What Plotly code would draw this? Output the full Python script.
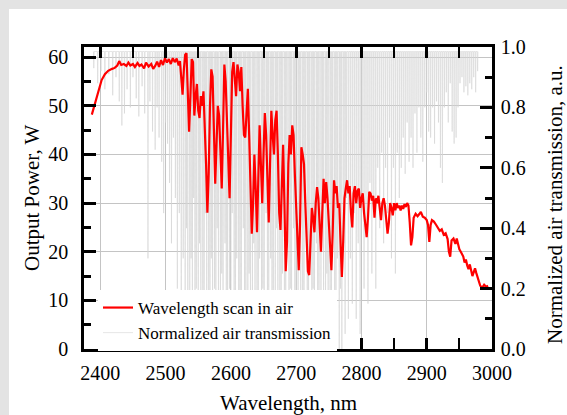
import plotly.graph_objects as go

# ---------------- data ----------------
scan_wl = [2387, 2392, 2397, 2402, 2407, 2412, 2418, 2422, 2426, 2429, 2432, 2436, 2440, 2443, 2446,
           2450, 2453, 2457, 2460, 2463, 2467, 2470, 2474, 2478, 2481, 2484, 2487, 2490, 2493, 2496,
           2499, 2502, 2505, 2508, 2511, 2514, 2517, 2520, 2522, 2524, 2526, 2528, 2530, 2532, 2534,
           2536, 2538, 2540, 2542, 2544, 2546, 2548, 2550, 2552, 2554, 2556, 2558, 2560, 2562, 2564,
           2566, 2568, 2570, 2572, 2574, 2576, 2578, 2580, 2582, 2584, 2586, 2588, 2590, 2592, 2594,
           2596, 2598, 2600, 2602, 2604, 2606, 2608, 2610, 2612, 2614, 2616, 2618, 2620, 2622, 2624,
           2626, 2628, 2630, 2632, 2634, 2636, 2638, 2640, 2642, 2644, 2646, 2648, 2650, 2652, 2654,
           2656, 2658, 2660, 2662, 2664, 2666, 2668, 2670, 2672, 2674, 2676, 2678, 2680, 2682, 2684,
           2686, 2688, 2690, 2692, 2694, 2696, 2698, 2700, 2702, 2704, 2706, 2708, 2710, 2712, 2714,
           2716, 2718, 2720, 2722, 2724, 2726, 2728, 2730, 2732, 2734, 2736, 2738, 2740, 2742, 2744,
           2746, 2748, 2750, 2752, 2754, 2756, 2758, 2760, 2762, 2764, 2766, 2768, 2770, 2772, 2774,
           2776, 2778, 2780, 2782, 2784, 2786, 2788, 2790, 2792, 2794, 2796, 2798, 2800, 2802, 2804,
           2806, 2808, 2810, 2812, 2814, 2816, 2818, 2820, 2822, 2824, 2826, 2828, 2830, 2832, 2834,
           2836, 2838, 2840, 2842, 2844, 2846, 2848, 2850, 2852, 2854, 2856, 2858, 2860, 2862, 2864,
           2866, 2868, 2870, 2872, 2874, 2876, 2878, 2880, 2883, 2886, 2889, 2891, 2894, 2897, 2900,
           2902, 2904, 2906, 2908, 2911, 2914, 2917, 2920, 2923, 2926, 2929, 2932, 2934, 2936, 2938,
           2941, 2944, 2946, 2948, 2950, 2953, 2956, 2958, 2960, 2962, 2964, 2966, 2968, 2970, 2972,
           2974, 2976, 2978, 2980, 2982, 2985, 2988, 2991, 2994]
scan_power = [48.2, 50.5, 53.0, 55.3, 56.5, 57.2, 57.6, 57.8, 58.3, 59.2, 58.4, 58.6, 58.2, 58.9, 58.3,
              58.6, 58.0, 58.8, 58.2, 58.5, 57.7, 58.9, 58.1, 58.6, 57.6, 58.2, 59.1, 58.0, 59.4, 58.4,
              59.8, 58.9, 59.6, 58.6, 59.8, 59.0, 59.7, 58.3, 59.2, 55.5, 52.3, 57.5, 60.5, 60.8, 52.0,
              44.7, 52.0, 59.6, 59.0, 48.0, 52.0, 54.5, 49.0, 47.5, 52.0, 50.0, 53.0, 46.0, 38.0, 28.0,
              36.0, 50.0, 57.5, 56.0, 44.0, 34.0, 42.0, 50.0, 48.0, 40.0, 33.0, 45.0, 58.5, 55.0, 48.0,
              40.0, 31.0, 44.0, 57.0, 59.0, 56.0, 52.0, 58.5, 57.0, 53.0, 58.0, 50.0, 44.0, 43.5, 50.0,
              53.5, 44.0, 32.0, 23.7, 30.0, 40.0, 33.0, 24.0, 35.0, 46.0, 38.0, 30.0, 40.0, 48.5, 44.0,
              33.0, 26.0, 38.0, 49.0, 44.0, 40.0, 47.0, 49.0, 40.0, 28.0, 24.5, 32.0, 42.0, 30.0, 16.0,
              22.0, 38.0, 44.0, 40.0, 46.0, 44.0, 36.0, 28.0, 24.0, 16.2, 26.0, 41.5, 40.0, 38.0, 30.0,
              22.0, 16.0, 15.2, 22.0, 29.0, 27.0, 24.0, 30.0, 33.3, 31.0, 26.0, 20.0, 28.0, 35.0, 30.0,
              34.3, 31.0, 26.0, 20.0, 16.2, 24.0, 34.7, 32.0, 33.5, 29.0, 30.0, 22.0, 14.8, 22.0, 31.0,
              33.0, 34.7, 32.0, 33.5, 28.0, 25.0, 32.0, 33.5, 30.0, 32.5, 33.0, 29.0, 31.0, 32.0, 28.0,
              25.0, 23.0, 27.0, 32.3, 32.0, 30.5, 31.5, 27.0, 31.0, 30.0, 31.5, 29.0, 26.5, 30.0, 31.0,
              29.5, 27.0, 23.7, 26.0, 30.0, 29.0, 27.5, 30.0, 28.5, 30.0, 29.0, 29.5, 28.5, 29.5, 28.8,
              29.8, 29.2, 30.0, 29.5, 26.0, 21.3, 23.0, 27.0, 27.8, 27.3, 27.8, 28.2, 27.2, 27.0, 26.5,
              25.5, 22.0, 25.5, 26.5, 26.2, 25.6, 25.0, 24.3, 24.6, 23.5, 23.8, 22.6, 20.0, 19.0, 22.3,
              22.7, 21.6, 22.7, 21.6, 20.5, 19.8, 19.0, 17.8, 18.4, 17.2, 16.4, 17.4, 16.0, 15.0, 15.8,
              16.6, 15.6, 14.6, 13.8, 13.0, 12.6, 13.2, 12.8, 13.0]

# absorption dips of the normalized air transmission (centre wavelength, minimum)
dip_wl = [2390, 2396, 2401, 2407, 2413, 2419, 2424, 2429, 2433, 2437, 2441, 2446, 2450, 2455, 2459,
          2464, 2468, 2473, 2476, 2480, 2484, 2487, 2490, 2494, 2497, 2500, 2503, 2506, 2509, 2512,
          2515, 2518, 2521, 2524, 2527,
          2530, 2532, 2534, 2537, 2539, 2541, 2543, 2545, 2547, 2550, 2552, 2554, 2557, 2559, 2561,
          2563, 2566, 2568, 2570, 2572, 2575, 2577, 2579, 2581, 2584, 2586, 2588, 2591, 2593, 2595,
          2598, 2600, 2602, 2605, 2607, 2609, 2612, 2614, 2616, 2619, 2621, 2623, 2626, 2628, 2630,
          2633, 2635, 2637, 2640, 2642, 2644, 2647, 2649, 2651, 2654, 2656, 2658, 2661, 2663, 2665,
          2668, 2670, 2672, 2675, 2677, 2679, 2682, 2684, 2686, 2689, 2691, 2693, 2696, 2698, 2700,
          2703, 2705, 2707, 2710, 2712, 2714, 2717, 2719, 2721, 2724, 2726, 2728, 2731, 2733, 2735,
          2738, 2740, 2742, 2745, 2747, 2749, 2752, 2754, 2756, 2759, 2761, 2763, 2766, 2768, 2770,
          2773, 2775, 2777, 2780,
          2783, 2786, 2789, 2792, 2795, 2798, 2801, 2804, 2807, 2810, 2813, 2816, 2819, 2822, 2825,
          2828, 2831, 2834, 2837, 2840, 2843, 2846, 2849, 2852, 2855, 2858,
          2861, 2864, 2867, 2870, 2873, 2876, 2879, 2882, 2885, 2888, 2891, 2894, 2897, 2900, 2903,
          2906, 2909, 2912, 2915, 2918, 2921, 2924, 2927, 2930, 2933, 2936, 2939, 2942, 2945, 2948,
          2951, 2954, 2957, 2960, 2963, 2966, 2969, 2972, 2975, 2978]
dip_min = [0.93, 0.88, 0.92, 0.86, 0.91, 0.84, 0.90, 0.82, 0.74, 0.78, 0.86, 0.80, 0.90, 0.83, 0.77,
           0.87, 0.78, 0.30, 0.82, 0.72, 0.66, 0.80, 0.70, 0.62, 0.45, 0.75, 0.68, 0.55, 0.35, 0.70,
           0.50, 0.20, 0.45, 0.10, 0.30,
           0.05, 0.40, 0.10, 0.00, 0.30, 0.05, 0.50, 0.00, 0.20, 0.00, 0.35, 0.02, 0.15, 0.00, 0.45,
           0.00, 0.10, 0.00, 0.30, 0.00, 0.20, 0.00, 0.40, 0.05, 0.00, 0.25, 0.00, 0.35, 0.02, 0.00,
           0.20, 0.00, 0.45, 0.05, 0.00, 0.30, 0.00, 0.15, 0.00, 0.40, 0.00, 0.10, 0.00, 0.25, 0.00,
           0.05, 0.35, 0.00, 0.10, 0.00, 0.30, 0.00, 0.20, 0.00, 0.45, 0.00, 0.05, 0.30, 0.00, 0.15,
           0.00, 0.40, 0.00, 0.10, 0.00, 0.25, 0.00, 0.05, 0.35, 0.00, 0.20, 0.00, 0.40, 0.00, 0.10,
           0.00, 0.30, 0.00, 0.15, 0.00, 0.45, 0.00, 0.05, 0.30, 0.00, 0.20, 0.00, 0.35, 0.00, 0.10,
           0.00, 0.40, 0.02, 0.00, 0.25, 0.00, 0.15, 0.00, 0.40, 0.00, 0.10, 0.30, 0.00, 0.20, 0.00,
           0.35, 0.05, 0.50, 0.10,
           0.30, 0.15, 0.45, 0.10, 0.35, 0.05, 0.50, 0.20, 0.40, 0.15, 0.55, 0.25, 0.50, 0.20, 0.60,
           0.40, 0.65, 0.35, 0.60, 0.45, 0.70, 0.30, 0.60, 0.25, 0.65, 0.50,
           0.60, 0.70, 0.58, 0.75, 0.62, 0.70, 0.60, 0.78, 0.65, 0.80, 0.70, 0.62, 0.80, 0.85, 0.72,
           0.70, 0.80, 0.68, 0.82, 0.75, 0.60, 0.55, 0.80, 0.85, 0.75, 0.88, 0.72, 0.68, 0.70, 0.80,
           0.88, 0.90, 0.85, 0.87, 0.84, 0.88, 0.86, 0.90, 0.85, 0.92]
trans_top = 0.985

x_ticks = [2400, 2500, 2600, 2700, 2800, 2900, 3000]
power_ticks = [0, 10, 20, 30, 40, 50, 60]
trans_ticks = [0.0, 0.2, 0.4, 0.6, 0.8, 1.0]

# build transmission trace from the dips (each dip drawn as a narrow line)
tr_x, tr_y = [], []
for w, m in zip(dip_wl, dip_min):
    tr_x += [w - 0.5, w, w + 0.5]
    tr_y += [trans_top, m, trans_top]

FONT = "Liberation Serif"

fig = go.Figure()
fig.add_trace(go.Scatter(x=tr_x, y=tr_y, mode="lines", yaxis="y",
                         line=dict(color="#d4d4d4", width=0.6),
                         name="Normalized air transmission", legendrank=2))
fig.add_trace(go.Scatter(x=scan_wl, y=scan_power, mode="lines", yaxis="y2",
                         line=dict(color="#ff0000", width=2.2),
                         name="Wavelength scan in air", legendrank=1))

W, H = 567, 415
L, R, T, B = 84, 75, 47, 66
pw, ph = W - L - R, H - T - B

def px2x(p):
    return (p - L) / pw

def py2y(p):
    return (H - B - p) / ph

axis_common = dict(showline=True, linecolor="black", linewidth=2.5,
                   ticks="inside", tickcolor="black", tickwidth=2.5,
                   tickfont=dict(family=FONT, size=20, color="black"),
                   zeroline=False, automargin=False)

title_font = dict(family=FONT, size=21, color="black")

fig.update_layout(
    width=W, height=H,
    margin=dict(l=L, r=R, t=T, b=B, autoexpand=False),
    paper_bgcolor="#e3e3e3",
    plot_bgcolor="white",
    font=dict(family=FONT, color="black"),
    showlegend=True,
    legend=dict(x=px2x(98), y=py2y(290), xanchor="left", yanchor="top",
                bgcolor="white", borderwidth=0,
                font=dict(family=FONT, size=17, color="black"),
                tracegroupgap=0, itemwidth=30),
    xaxis=dict(range=[2375, 3000], tickvals=x_ticks, mirror="allticks",
               ticklen=11, showgrid=True, gridcolor="#c4c4c4", gridwidth=1,
               minor=dict(dtick=50, tick0=2400, ticklen=5, tickwidth=2, ticks="inside",
                          tickcolor="black", showgrid=False),
               ticklabelstandoff=4,
               **axis_common),
    yaxis=dict(range=[0, 1.0], side="right", tickvals=trans_ticks, tickformat=".1f",
               ticklen=12, showgrid=False, anchor="x",
               minor=dict(dtick=0.1, tick0=0, ticklen=7, tickwidth=2.5, ticks="inside",
                          tickcolor="black", showgrid=False),
               ticklabelstandoff=2,
               **axis_common),
    yaxis2=dict(range=[0, 62.1], side="left", overlaying="y", anchor="x", tickvals=power_ticks,
                ticklen=12, showgrid=True, gridcolor="#c4c4c4", gridwidth=1,
                minor=dict(dtick=5, tick0=0, ticklen=7, tickwidth=2.5, ticks="inside",
                           tickcolor="black", showgrid=False),
                ticklabelstandoff=9,
                **axis_common),
    shapes=[
        dict(type="rect", xref="paper", yref="paper", layer="below",
             x0=px2x(9), x1=px2x(W + 40), y0=py2y(H + 40), y1=py2y(9),
             fillcolor="white", line=dict(width=0)),
    ],
    annotations=[
        dict(text="Wavelength, nm", xref="paper", yref="paper", x=px2x(288), y=py2y(403),
             xanchor="center", yanchor="middle", showarrow=False, font=title_font),
        dict(text="Output Power, W", xref="paper", yref="paper", x=px2x(32), y=py2y(198),
             xanchor="center", yanchor="middle", textangle=-90, showarrow=False, font=title_font),
        dict(text="Normalized air transmission, a.u.", xref="paper", yref="paper",
             x=px2x(555), y=py2y(205), xanchor="center", yanchor="middle", textangle=-90,
             showarrow=False, font=title_font),
    ],
)

fig.write_html("out.html", config={"displayModeBar": False},
               post_script=("document.documentElement.style.overflow='hidden';"
                            "document.body.style.margin='0';"
                            "document.body.style.overflow='hidden';"))
